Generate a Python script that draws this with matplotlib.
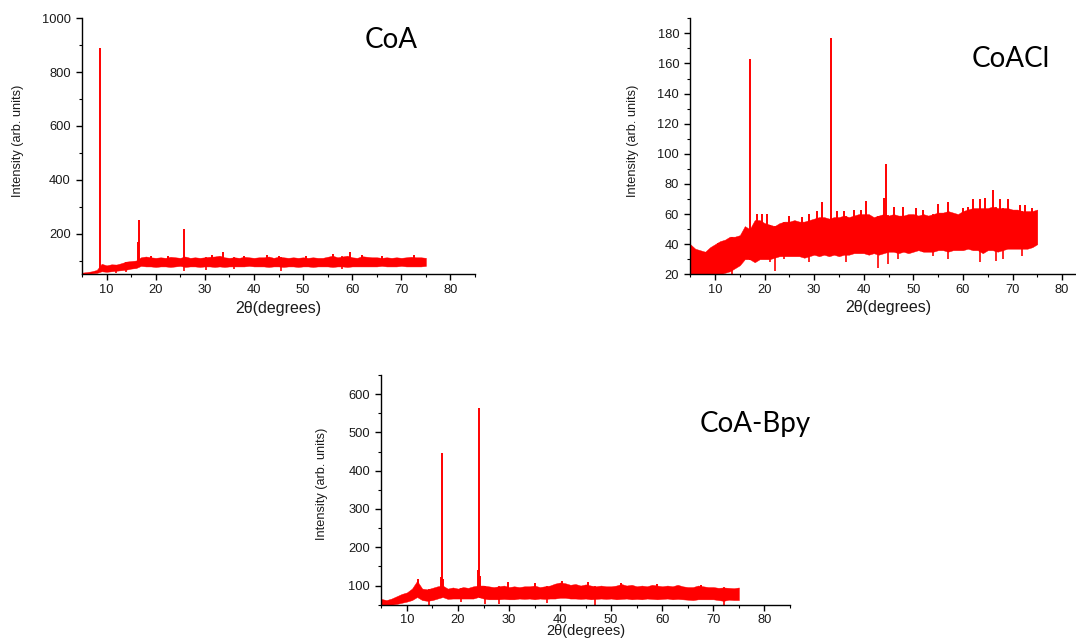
import matplotlib
matplotlib.use("Agg")
import matplotlib.pyplot as plt
from matplotlib.ticker import MultipleLocator
import numpy as np

# 2theta grid for the noisy background band (1 degree steps)
two_theta = np.arange(5, 76, 1)

# CoA
coa_lo = [50, 50, 52, 54, 60, 58, 60, 62, 64, 66, 70, 72, 80, 78, 78, 76, 78, 78, 76, 78,
          80, 76, 78, 78, 76, 78, 78, 76, 78, 76, 78, 78, 78, 78, 80, 78, 78, 78, 76, 78,
          78, 76, 78, 78, 76, 78, 78, 76, 78, 78, 78, 76, 78, 78, 76, 78, 78, 78, 78, 78,
          78, 80, 78, 78, 78, 80, 78, 78, 78, 78, 80]
coa_hi = [55, 57, 60, 65, 88, 82, 86, 85, 90, 96, 98, 100, 112, 115, 112, 110, 112, 110, 114, 112,
          110, 115, 110, 112, 110, 112, 114, 115, 118, 112, 110, 112, 110, 114, 112, 110, 112, 112, 115, 110,
          114, 112, 110, 112, 110, 112, 110, 112, 110, 110, 114, 118, 112, 115, 118, 112, 110, 116, 114, 112,
          112, 110, 112, 110, 112, 110, 112, 114, 112, 112, 110]
coa_peak_x = [8.7, 16.5, 16.7, 25.8, 33.8, 42.6, 45.0, 56.0, 59.5, 62.0, 72.5, 19.0, 22.5, 31.5, 38.0, 50.5, 66.0]
coa_peak_y = [890, 170, 250, 218, 132, 122, 118, 125, 130, 120, 120, 118, 116, 120, 118, 117, 118]
coa_dip_x = [25.7, 45.6, 30.2, 12.0, 14.0, 36.0, 58.0]
coa_dip_y = [60, 62, 66, 55, 58, 68, 68]

# CoACl
cocl_lo = [20, 20, 20, 20, 20, 20, 20, 21, 22, 24, 26, 30, 30, 28, 30, 30, 30, 31, 32, 32,
           32, 32, 32, 31, 32, 33, 32, 33, 32, 33, 32, 33, 33, 34, 34, 34, 33, 34, 33, 34,
           35, 35, 34, 35, 34, 35, 36, 35, 35, 35, 36, 36, 35, 36, 36, 36, 37, 36, 36, 34,
           36, 36, 35, 36, 37, 37, 37, 37, 37, 38, 40]
cocl_hi = [40, 37, 36, 35, 38, 40, 42, 43, 45, 45, 46, 52, 50, 56, 56, 54, 53, 52, 54, 55,
           55, 56, 55, 55, 56, 57, 58, 58, 57, 58, 58, 59, 58, 59, 60, 60, 60, 58, 59, 60,
           59, 60, 59, 59, 60, 60, 59, 60, 59, 60, 61, 61, 62, 61, 60, 62, 63, 64, 64, 64,
           64, 65, 64, 64, 64, 63, 63, 62, 62, 62, 63]
cocl_peak_x = [17.1, 33.3, 44.5, 31.6, 40.5, 44.0, 63.5, 64.5, 66.1, 67.5, 71.5,
               18.5, 19.5, 20.5, 25.0, 27.5, 29.0, 30.5, 34.5, 36.0, 38.0, 39.5, 46.0,
               48.0, 50.5, 52.0, 55.0, 57.0, 60.0, 61.0, 62.0, 69.0, 72.5, 74.0]
cocl_peak_y = [163, 177, 93, 68, 69, 71, 70, 71, 76, 70, 66,
               60, 60, 60, 59, 58, 60, 62, 62, 62, 63, 63, 65,
               65, 64, 63, 67, 68, 64, 65, 70, 70, 66, 64]
cocl_dip_x = [22.1, 42.9, 44.8, 63.5, 66.6, 68.0, 13.5, 8.0, 10.5, 21.0, 24.0,
              29.0, 36.5, 47.0, 54.0, 57.0, 72.0]
cocl_dip_y = [22, 24, 27, 28, 29, 30, 20, 20, 20, 28, 30,
              28, 28, 30, 32, 30, 32]

# CoA-Bpy
bpy_lo = [50, 50, 50, 52, 55, 58, 62, 70, 62, 60, 62, 66, 70, 65, 66, 66, 66, 66, 66, 70,
          66, 64, 64, 64, 65, 64, 64, 66, 65, 66, 64, 66, 65, 66, 66, 68, 68, 66, 66, 65,
          66, 64, 65, 66, 65, 66, 64, 65, 66, 64, 65, 64, 66, 65, 64, 65, 66, 64, 65, 64,
          63, 62, 64, 64, 64, 64, 62, 60, 63, 62, 62]
bpy_hi = [65, 62, 66, 72, 78, 82, 92, 112, 92, 90, 94, 98, 100, 92, 95, 92, 96, 94, 98, 100,
          100, 98, 96, 98, 100, 96, 98, 96, 98, 98, 100, 96, 98, 100, 105, 108, 106, 102, 104, 100,
          103, 100, 98, 100, 98, 98, 100, 104, 100, 102, 98, 100, 98, 102, 100, 98, 100, 98, 102, 98,
          96, 96, 100, 98, 96, 96, 94, 95, 94, 93, 95]
bpy_peak_x = [16.8, 24.2, 16.6, 17.0, 24.0, 24.4, 12.1, 40.3, 29.7, 35.0, 45.5, 52.0, 59.0, 67.5]
bpy_peak_y = [445, 565, 122, 118, 140, 125, 118, 112, 108, 106, 108, 106, 104, 102]
bpy_dip_x = [14.3, 28.0, 46.8, 72.0, 25.2, 20.5, 37.5]
bpy_dip_y = [50, 52, 50, 50, 52, 56, 55]

red = "#ff0000"
tick_font = "Liberation Sans"
ylab_font = ["Liberation Sans Narrow", "Liberation Sans"]

fig = plt.figure(figsize=(10.76, 6.43), dpi=100)

panels = [
    # name, rect, data, ylim, major, minor, title pos, ylabel coords, xlabel y, xlabel size
    ("CoA", [0.0762, 0.5739, 0.3653, 0.3976],
     (coa_lo, coa_hi, coa_peak_x, coa_peak_y, coa_dip_x, coa_dip_y),
     (50, 1000), 200, 100, (0.72, 0.884), (-0.148, 0.522), -0.104, 11.5),
    ("CoACl", [0.6415, 0.5734, 0.3686, 0.3981],
     (cocl_lo, cocl_hi, cocl_peak_x, cocl_peak_y, cocl_dip_x, cocl_dip_y),
     (20, 190), 20, 10, (0.71, 0.81), (-0.129, 0.522), -0.102, 11.5),
    ("CoA-Bpy", [0.3544, 0.0596, 0.3798, 0.3572],
     (bpy_lo, bpy_hi, bpy_peak_x, bpy_peak_y, bpy_dip_x, bpy_dip_y),
     (50, 650), 100, 50, (0.78, 0.752), (-0.130, 0.525), -0.086, 10.5),
]

for name, rect, (lo, hi, px, py, dx, dy), ylim, major, minor, tpos, ylc, xly, xls in panels:
    ax = fig.add_axes(rect)
    ax.fill_between(two_theta, lo, hi, color=red, lw=0.3)
    base = np.interp(px, two_theta, lo)
    ax.vlines(px, base, py, color=red, lw=1.4)
    top = np.interp(dx, two_theta, hi)
    ax.vlines(dx, dy, top, color=red, lw=1.2)

    ax.set_xlim(5, 85)
    ax.set_ylim(*ylim)
    ax.xaxis.set_major_locator(MultipleLocator(10))
    ax.xaxis.set_minor_locator(MultipleLocator(5))
    ax.yaxis.set_major_locator(MultipleLocator(major))
    ax.yaxis.set_minor_locator(MultipleLocator(minor))

    for s in ["top", "right"]:
        ax.spines[s].set_visible(False)
    for s in ["left", "bottom"]:
        ax.spines[s].set_linewidth(1.0)
    ax.tick_params(which="major", direction="out", length=4.5, width=1.0, labelsize=9.3)
    ax.tick_params(axis="x", which="major", pad=2.5)
    ax.tick_params(which="minor", direction="out", length=2.5, width=0.8)
    for lab in ax.get_xticklabels() + ax.get_yticklabels():
        lab.set_family(tick_font)
        lab.set_color("#1a1a1a")

    ax.set_xlabel("2θ(degrees)", fontsize=xls, family=tick_font, color="#1a1a1a")
    ax.xaxis.set_label_coords(0.5, xly)
    ax.set_ylabel("Intensity (arb. units)", fontsize=9.2, family=ylab_font, color="#1a1a1a")
    ax.yaxis.set_label_coords(*ylc)

    ax.text(tpos[0], tpos[1], name, transform=ax.transAxes, fontsize=20,
            family="Lato", ha="left", va="baseline", color="black")

fig.savefig("out.png", dpi=100)
